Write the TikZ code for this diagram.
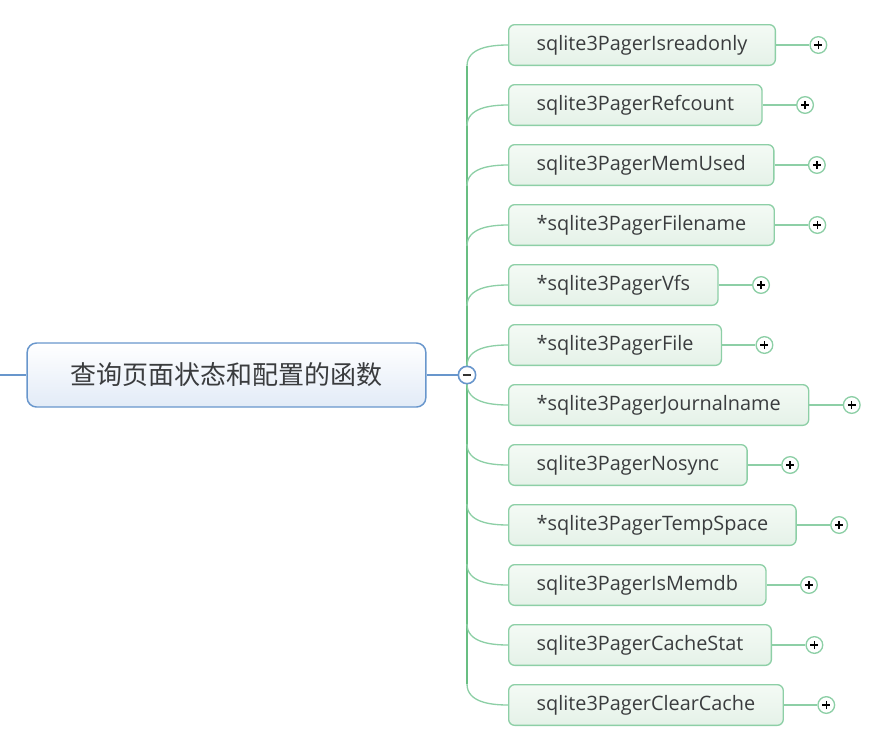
\documentclass[tikz,border=0pt]{standalone}
\usepackage{fontspec}
\setmainfont{Open Sans}
\newfontfamily\cjk{Noto Sans CJK SC}
\usetikzlibrary{positioning}
\definecolor{topicblue}{RGB}{104,150,204}
\definecolor{topicfill}{RGB}{226,235,247}
\definecolor{leafgreen}{RGB}{141,207,166}
\definecolor{trunkgreen}{RGB}{104,190,130}
\definecolor{leaftop}{RGB}{244,250,245}
\definecolor{leaffill}{RGB}{229,242,232}
\definecolor{inkgray}{RGB}{58,60,62}
\tikzset{
  topic/.style={draw=topicblue, line width=1.1pt, rounded corners=7pt,
    top color=white, bottom color=topicfill, minimum width=299pt,
    minimum height=48pt, font=\cjk\fontsize{19.5}{24}\selectfont, text=inkgray},
  leaf/.style={draw=leafgreen, line width=1pt, rounded corners=4.5pt,
    top color=leaftop, bottom color=leaffill, minimum height=30.5pt,
    inner xsep=21pt, anchor=west, font=\fontsize{14.9}{18}\selectfont, text=inkgray},
  fold/.style={circle, fill=white, minimum size=12.5pt, inner sep=0pt, line width=1pt},
  plussign/.style={fold, draw=leafgreen, path picture={
    \draw[black, line width=1pt] (path picture bounding box.center) +(-3pt,0) -- +(3pt,0)
      (path picture bounding box.center) +(0,-3pt) -- +(0,3pt);}},
  minussign/.style={fold, minimum size=13pt, draw=topicblue, line width=1.2pt, path picture={
    \draw[black!80, line width=1.2pt] (path picture bounding box.center) +(-3.2pt,0) -- +(3.2pt,0);}},
  branch/.style={leafgreen, line width=1pt},
  trunk/.style={trunkgreen, line width=1.7pt}
}
\begin{document}
\begin{tikzpicture}[x=0.75pt, y=-0.75pt]
  \useasboundingbox (0,0) rectangle (870,743);
  % main topic
  \node[topic] (ctr) at (226.5,375) {查询页面状态和配置的函数};
  \coordinate (lin) at (0,375);
  \draw[topicblue, line width=1.1pt] (lin) -- (ctr.west);
  % trunk of the branches
  \coordinate (ttop) at (467,66);
  \coordinate (tbot) at (467,684);
  \draw[trunk] (ttop) -- (tbot);
  % sub topics
  \foreach \name [count=\i] in {sqlite3PagerIsreadonly, sqlite3PagerRefcount,
      sqlite3PagerMemUsed, *sqlite3PagerFilename, *sqlite3PagerVfs, *sqlite3PagerFile,
      *sqlite3PagerJournalname, sqlite3PagerNosync, *sqlite3PagerTempSpace,
      sqlite3PagerIsMemdb, sqlite3PagerCacheStat, sqlite3PagerClearCache} {
    \pgfmathsetmacro\yc{45+60*(\i-1)}
    \node[leaf] (fn\i) at (508,\yc) {\name};
    \node[plussign, right=25pt of fn\i] (pl\i) {};
    \draw[branch] (fn\i) -- (pl\i);
    \ifnum\i<7
      \coordinate (br\i) at (467,\yc+21);
      \draw[branch] (br\i) to[out=90, in=180] (fn\i.west);
    \else
      \coordinate (br\i) at (467,\yc-21);
      \draw[branch] (br\i) to[out=-90, in=180] (fn\i.west);
    \fi
  }
  % collapse button
  \node[minussign] (mn) at (467,375) {};
  \draw[topicblue, line width=1.1pt] (ctr.east) -- (mn);
\end{tikzpicture}
\end{document}
